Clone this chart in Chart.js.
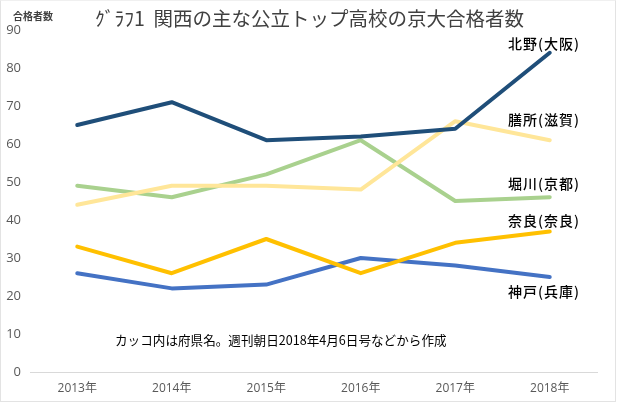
<!DOCTYPE html>
<html><head><meta charset="utf-8">
<script src="https://cdn.jsdelivr.net/npm/chart.js@4/dist/chart.umd.min.js"></script>
<style>
html,body{margin:0;padding:0;background:#fff;}
#wrap{position:relative;width:616px;height:402px;box-sizing:border-box;border:1px solid #e3e3e3;border-top-color:#f0f0f0;}
canvas{display:block;}
</style></head>
<body><div id="wrap"><canvas id="c" width="614" height="400"></canvas></div>
<script>
const categories = ['2013年','2014年','2015年','2016年','2017年','2018年'];
const seriesNames = ['北野(大阪)','膳所(滋賀)','堀川(京都)','奈良(奈良)','神戸(兵庫)'];
const kitano = [65, 71, 61, 62, 64, 84];
const zeze   = [44, 49, 49, 48, 66, 61];
const horikawa = [49, 46, 52, 61, 45, 46];
const nara   = [33, 26, 35, 26, 34, 37];
const kobe   = [26, 22, 23, 30, 28, 25];
const yTicks = [0,10,20,30,40,50,60,70,80,90];
const titleText = 'ｸﾞﾗﾌ1  関西の主な公立トップ高校の京大合格者数';
const yAxisTitle = '合格者数';
const noteText = 'カッコ内は府県名。週刊朝日2018年4月6日号などから作成';

const colors = ['#1f4e79','#ffe699','#a9d18e','#ffc000','#4472c4'];
const labelOffsets = [-9,-21,-14,-11,15];
const values = [kitano, zeze, horikawa, nara, kobe];

const jp = '"Noto Sans CJK JP", "Noto Sans", sans-serif';

const textPlugin = {
  id: 'texts',
  afterDatasetsDraw(chart) {
    const ctx = chart.ctx;
    const y = chart.scales.y;
    ctx.save();
    ctx.textBaseline = 'middle';
    ctx.textAlign = 'left';
    ctx.fillStyle = '#404040';
    ctx.font = '19.5px ' + jp;
    ctx.fillText(titleText, 94, 18);
    ctx.font = 'bold 10px ' + jp;
    ctx.fillText(yAxisTitle, 12, 15);
    ctx.fillStyle = '#000';
    ctx.font = '12.6px ' + jp;
    ctx.fillText(noteText, 114, 339);
    ctx.font = '500 14px ' + jp;
    if ('letterSpacing' in ctx) ctx.letterSpacing = '1px';
    values.forEach((v, i) => {
      const py = y.getPixelForValue(v[v.length - 1]) + labelOffsets[i];
      ctx.fillText(seriesNames[i], 507, py);
    });
    ctx.restore();
  }
};

new Chart(document.getElementById('c'), {
  type: 'line',
  data: {
    labels: categories,
    datasets: values.map((v, i) => ({
      label: seriesNames[i],
      data: v,
      borderColor: colors[i],
      backgroundColor: colors[i],
      borderWidth: 4,
      pointRadius: 0,
      tension: 0,
      borderCapStyle: 'round',
      borderJoinStyle: 'round',
      fill: false
    }))
  },
  options: {
    responsive: false,
    animation: false,
    layout: { padding: { left: 0, right: 18, top: 29, bottom: 0 } },
    plugins: { legend: { display: false }, tooltip: { enabled: false }, title: { display: false } },
    scales: {
      x: {
        offset: true,
        grid: { display: false, drawTicks: false },
        border: { display: true, color: '#d9d9d9', width: 1 },
        ticks: { color: '#595959', font: { family: '"Open Sans", "Noto Sans CJK JP", sans-serif', size: 12 }, padding: 9, maxRotation: 0 },
        afterFit(s) { s.height = 29; }
      },
      y: {
        min: 0, max: 90,
        afterBuildTicks(s) { s.ticks = yTicks.map(v => ({ value: v })); },
        grid: { display: false, drawTicks: false },
        border: { display: false },
        ticks: { color: '#595959', font: { family: '"Open Sans", sans-serif', size: 13 }, padding: 9 },
        afterFit(s) { s.width = 29; }
      }
    }
  },
  plugins: [textPlugin]
});
</script>
</body></html>
